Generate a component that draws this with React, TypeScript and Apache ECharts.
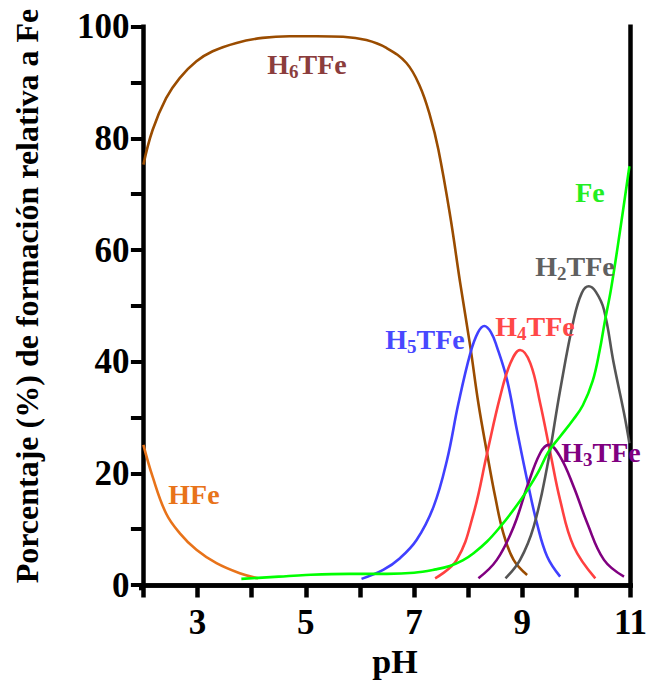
import React, { useEffect, useRef } from "react";
import * as echarts from "echarts";

// Species distribution of Fe complexes versus pH: [pH, % formation]
const HFe: [number, number][] = [
  [2.0, 25.1], [2.17, 19.4], [2.42, 12.8], [2.67, 9.3], [2.98, 6.3], [3.35, 3.9], [3.78, 2.1], [4.12, 1.2],
];
const H6TFe: [number, number][] = [
  [2.0, 75.3], [2.17, 81.5], [2.42, 87.2], [2.67, 90.8], [2.98, 93.8], [3.28, 95.6], [3.72, 97.1],
  [4.2, 98.0], [4.7, 98.3], [5.2, 98.3], [5.69, 98.2], [6.12, 97.6], [6.49, 96.2], [6.86, 93.5],
  [7.11, 89.3], [7.3, 83.9], [7.45, 78], [7.67, 66], [7.85, 54.3], [8.04, 42.7], [8.19, 32.5],
  [8.35, 23.6], [8.5, 15.8], [8.65, 9.3], [8.84, 4.5], [9.09, 1.8],
];
const H5TFe: [number, number][] = [
  [6.03, 1.1], [6.43, 2.7], [6.74, 4.8], [7.05, 8.1], [7.36, 14], [7.61, 22.4], [7.82, 32.5],
  [8.04, 41.5], [8.18, 45.2], [8.3, 46.4], [8.42, 45.3], [8.53, 42.7], [8.72, 36.7], [8.9, 27.8],
  [9.09, 18.8], [9.27, 11.1], [9.46, 5.1], [9.7, 1.5],
];
const H4TFe: [number, number][] = [
  [7.39, 1.2], [7.79, 4.5], [8.1, 12.8], [8.35, 23.6], [8.59, 33.7], [8.78, 39.7], [8.96, 42.1],
  [9.15, 39.7], [9.33, 32.6], [9.52, 23.6], [9.7, 15.2], [9.95, 6.9], [10.35, 1.2],
];
const H3TFe: [number, number][] = [
  [8.19, 1.2], [8.53, 4.5], [8.84, 10.4], [9.09, 17.6], [9.33, 23.6], [9.49, 25.1], [9.7, 23],
  [9.95, 17.6], [10.2, 11.1], [10.51, 4.5], [10.88, 1.5],
];
const H2TFe: [number, number][] = [
  [8.69, 1.2], [8.96, 4.5], [9.21, 10.4], [9.46, 21.2], [9.7, 34.9], [9.95, 47.5], [10.1, 52.3],
  [10.23, 53.5], [10.36, 52.5], [10.51, 49.3], [10.69, 39.7], [10.88, 30.8], [10.98, 25.4],
];
const Fe: [number, number][] = [
  [3.81, 1.1], [4.5, 1.5], [5.0, 1.8], [5.8, 2.0], [6.5, 2.0], [7.0, 2.2], [7.4, 2.8], [7.66, 3.4],
  [7.9, 4.4], [8.1, 5.7], [8.35, 7.8], [8.59, 10.4], [8.85, 13.6], [9.08, 16.8], [9.3, 20.3],
  [9.48, 23.8], [9.7, 26.6], [9.94, 29.6], [10.12, 32.2], [10.3, 36.5], [10.43, 42], [10.52, 46.9],
  [10.64, 53], [10.8, 63], [10.98, 75],
];

// Axis ranges: ticks every 1 pH / 10 %, labels on odd pH and every 20 %
const pHMin = 2;
const pHMax = 11;
const pctMin = 0;
const pctMax = 100;

const FONT = "'Liberation Serif', 'Times New Roman', serif";

type Spec = { name: string; sub: string; rest: string; data: [number, number][]; line: string; text: string; x: number; y: number };

const species: Spec[] = [
  { name: "HFe", sub: "", rest: "Fe", data: HFe, line: "#E8731A", text: "#E8731A", x: 194, y: 494 },
  { name: "H6TFe", sub: "6", rest: "TFe", data: H6TFe, line: "#9A4C00", text: "#8B3D3D", x: 307, y: 64 },
  { name: "H5TFe", sub: "5", rest: "TFe", data: H5TFe, line: "#4040FF", text: "#4848FF", x: 425, y: 339 },
  { name: "H4TFe", sub: "4", rest: "TFe", data: H4TFe, line: "#FF4040", text: "#FF4848", x: 535, y: 326 },
  { name: "H3TFe", sub: "3", rest: "TFe", data: H3TFe, line: "#800080", text: "#800080", x: 601, y: 452 },
  { name: "H2TFe", sub: "2", rest: "TFe", data: H2TFe, line: "#555555", text: "#606060", x: 575, y: 266 },
  { name: "Fe", sub: "", rest: "", data: Fe, line: "#00FF00", text: "#22EE22", x: 590, y: 192 },
];

function labelGraphic(s: Spec) {
  const main = { fontSize: 28, fontWeight: "bold", fontFamily: FONT, fill: s.text, lineHeight: 30 };
  const sub = { fontSize: 19, fontWeight: "bold", fontFamily: FONT, fill: s.text, lineHeight: 19, padding: [14, 0, 0, 0] };
  let text: string;
  if (s.name === "Fe") text = "{m|Fe}";
  else if (s.name === "HFe") text = "{m|HFe}";
  else text = `{m|H}{s|${s.sub}}{m|${s.rest}}`;
  return {
    type: "text",
    x: s.x,
    y: s.y,
    z: 100,
    style: {
      text,
      align: "center",
      verticalAlign: "middle",
      rich: { m: main, s: sub },
    },
  };
}

export default function App() {
  const ref = useRef<HTMLDivElement>(null);

  useEffect(() => {
    if (!ref.current) return;
    const chart = echarts.init(ref.current, null, { renderer: "svg" });
    const axisLine = { show: true, lineStyle: { color: "#000", width: 4.5, cap: "square" } };
    const tickFont = { color: "#000", fontSize: 35, fontWeight: "bold", fontFamily: FONT };
    chart.setOption({
      animation: false,
      backgroundColor: "#fff",
      grid: { left: 143.4, right: 27.5, top: 26.7, bottom: 108, containLabel: false, outerBoundsMode: "none" },
      xAxis: [
        {
          type: "value",
          min: pHMin,
          max: pHMax,
          interval: 1,
          position: "bottom",
          offset: 3,
          axisLine,
          axisTick: { show: true, length: 12.5, lineStyle: { width: 4.5, color: "#000" } },
          axisLabel: {
            ...tickFont,
            margin: 17,
            formatter: (v: number) => (Math.round(v) % 2 === 1 ? String(v) : ""),
          },
          splitLine: { show: false },
          name: "pH",
          nameLocation: "middle",
          nameGap: 55,
          nameTextStyle: { fontSize: 34, fontWeight: "bold", fontFamily: FONT, color: "#000", padding: [0, 0, 0, 16] },
        },
        {
          type: "value",
          min: 0,
          max: 1,
          position: "top",
          axisLine,
          axisTick: { show: false },
          axisLabel: { show: false },
          splitLine: { show: false },
        },
      ],
      yAxis: [
        {
          type: "value",
          min: pctMin,
          max: pctMax,
          interval: 10,
          position: "left",
          offset: 2,
          axisLine,
          axisTick: { show: true, length: 12.5, lineStyle: { width: 4, color: "#000" } },
          axisLabel: {
            ...tickFont,
            margin: 12,
            formatter: (v: number) => (Math.round(v) % 20 === 0 ? String(v) : ""),
          },
          splitLine: { show: false },
        },
        {
          type: "value",
          min: 0,
          max: 1,
          position: "right",
          axisLine,
          axisTick: { show: false },
          axisLabel: { show: false },
          splitLine: { show: false },
        },
      ],
      graphic: [
        {
          type: "text",
          x: 27,
          y: 296,
          rotation: Math.PI / 2,
          z: 100,
          style: {
            text: "Porcentaje (%) de formación relativa a Fe",
            align: "center",
            verticalAlign: "middle",
            fontSize: 32,
            fontWeight: "bold",
            fontFamily: FONT,
            fill: "#000",
          },
        },
        // closes the frame corner where the offset axes meet
        { type: "rect", x: 139, y: 584, shape: { width: 5, height: 6.3 }, style: { fill: "#000" }, z: 50 },
        ...species.map(labelGraphic),
      ],
      series: species.map((s) => ({
        name: s.name,
        type: "line",
        data: s.data,
        xAxisIndex: 0,
        yAxisIndex: 0,
        smooth: 0.4,
        showSymbol: false,
        symbol: "none",
        lineStyle: { color: s.line, width: 2.6 },
        z: 3,
      })),
    });
    return () => chart.dispose();
  }, []);

  return <div ref={ref} style={{ width: 658, height: 693, margin: -8 }} />;
}
